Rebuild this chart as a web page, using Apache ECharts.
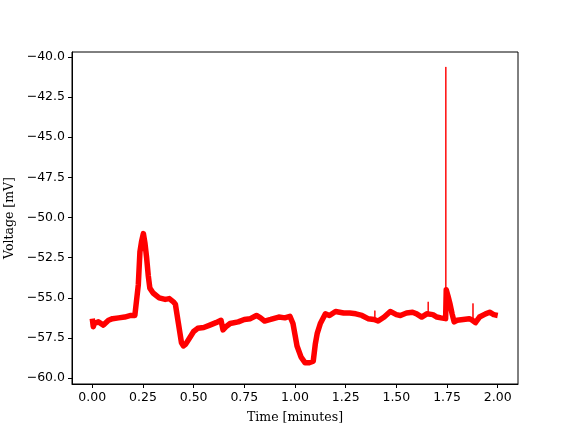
<!DOCTYPE html>
<html><head><meta charset="utf-8">
<script src="https://cdn.jsdelivr.net/npm/echarts@6/dist/echarts.min.js"></script>
<style>html,body{margin:0;padding:0;background:#fff}#c{width:576px;height:432px}</style>
</head><body><div id="c"></div>
<script>
// Main trace (minutes, mV)
var times = [0.000,0.005,0.010,0.030,0.055,0.080,0.100,0.130,0.160,0.190,0.210,0.218,0.227,0.235,0.243,0.252,0.260,0.268,0.276,0.284,0.300,0.330,0.360,0.380,0.400,0.410,0.425,0.440,0.450,0.460,0.480,0.500,0.520,0.550,0.580,0.610,0.635,0.645,0.660,0.680,0.720,0.750,0.780,0.810,0.830,0.850,0.880,0.920,0.950,0.975,0.990,1.000,1.010,1.030,1.050,1.070,1.090,1.100,1.110,1.125,1.150,1.170,1.200,1.240,1.270,1.300,1.330,1.360,1.390,1.410,1.440,1.470,1.500,1.520,1.550,1.580,1.600,1.625,1.650,1.680,1.700,1.720,1.743,1.746,1.755,1.765,1.775,1.785,1.800,1.830,1.860,1.875,1.890,1.910,1.940,1.960,1.980,2.000];
var voltage = [-56.3,-56.8,-56.6,-56.5,-56.7,-56.4,-56.3,-56.25,-56.2,-56.1,-56.1,-56.0,-54.2,-52.15,-51.5,-51.0,-51.6,-52.5,-53.6,-54.4,-54.7,-55.0,-55.1,-55.05,-55.25,-55.4,-56.6,-57.8,-58.0,-57.9,-57.5,-57.1,-56.9,-56.85,-56.7,-56.55,-56.4,-57.0,-56.8,-56.6,-56.5,-56.35,-56.3,-56.1,-56.25,-56.45,-56.35,-56.2,-56.25,-56.15,-56.6,-57.3,-58.0,-58.7,-59.05,-59.05,-58.95,-57.9,-57.2,-56.6,-56.0,-56.1,-55.85,-55.95,-55.95,-56.0,-56.1,-56.3,-56.35,-56.45,-56.2,-55.85,-56.05,-56.1,-55.95,-55.9,-56.0,-56.2,-56.0,-56.05,-56.2,-56.25,-56.3,-54.5,-54.9,-55.4,-56.0,-56.5,-56.4,-56.35,-56.3,-56.4,-56.55,-56.2,-56.0,-55.9,-56.05,-56.1];
// Thin spikes: time, base, peak
var spikeTimes = [1.394,1.657,1.744,1.878];
var spikeBase = [-56.3,-56.0,-56.3,-56.4];
var spikePeak = [-55.8,-55.25,-40.62,-55.35];
// Tick labels
var xTicks = [0,0.25,0.5,0.75,1.0,1.25,1.5,1.75,2.0];
var yTicks = [-60,-57.5,-55,-52.5,-50,-47.5,-45,-42.5,-40];

var mainData = times.map(function(t,i){return [t, voltage[i]];});
var spikeData = [];
spikeTimes.forEach(function(t,i){
  spikeData.push([t, spikeBase[i]]);
  spikeData.push([t, spikePeak[i]]);
  spikeData.push([t, spikeBase[i]]);
  spikeData.push([t, null]);
});
var minus = function(s){return s.replace('-', '\u2212');};
var chart = echarts.init(document.getElementById('c'), null, {renderer:'canvas'});
chart.setOption({
  animation:false,
  backgroundColor:'#fff',
  grid:{left:72,right:58,top:52,bottom:48,containLabel:false,outerBoundsMode:'none',show:true,borderColor:'#000',borderWidth:1,backgroundColor:'transparent'},
  xAxis:{type:'value',min:-0.1,max:2.1,
    name:'Time [minutes]',nameLocation:'middle',nameGap:27,
    nameTextStyle:{fontFamily:'DejaVu Serif',fontSize:12.5,color:'#000'},
    axisLine:{show:true,onZero:false,lineStyle:{color:'#000',width:1}},
    axisTick:{show:true,inside:false,length:4,customValues:xTicks,lineStyle:{color:'#000'}},
    axisLabel:{customValues:xTicks,margin:7,fontFamily:'DejaVu Sans',fontSize:12.5,color:'#000',
      formatter:function(v){return minus(v.toFixed(2));}},
    splitLine:{show:false}},
  yAxis:{type:'value',min:-60.37,max:-39.69,
    name:'Voltage [mV]',nameLocation:'middle',nameGap:56,nameRotate:90,
    nameTextStyle:{fontFamily:'DejaVu Serif',fontSize:12.5,color:'#000'},
    axisLine:{show:true,onZero:false,lineStyle:{color:'#000',width:1}},
    axisTick:{show:true,inside:false,length:4,customValues:yTicks,lineStyle:{color:'#000'}},
    axisLabel:{customValues:yTicks,margin:7,fontFamily:'DejaVu Sans',fontSize:12.5,color:'#000',
      formatter:function(v){return minus(v.toFixed(1));}},
    splitLine:{show:false}},
  series:[
    {type:'line',data:mainData,showSymbol:false,lineStyle:{color:'#ff0000',width:5.5,join:'round',cap:'butt'},itemStyle:{color:'#ff0000'}},
    {type:'line',data:spikeData,showSymbol:false,connectNulls:false,lineStyle:{color:'#ff0000',width:1},itemStyle:{color:'#ff0000'}}
  ]
});
</script></body></html>
